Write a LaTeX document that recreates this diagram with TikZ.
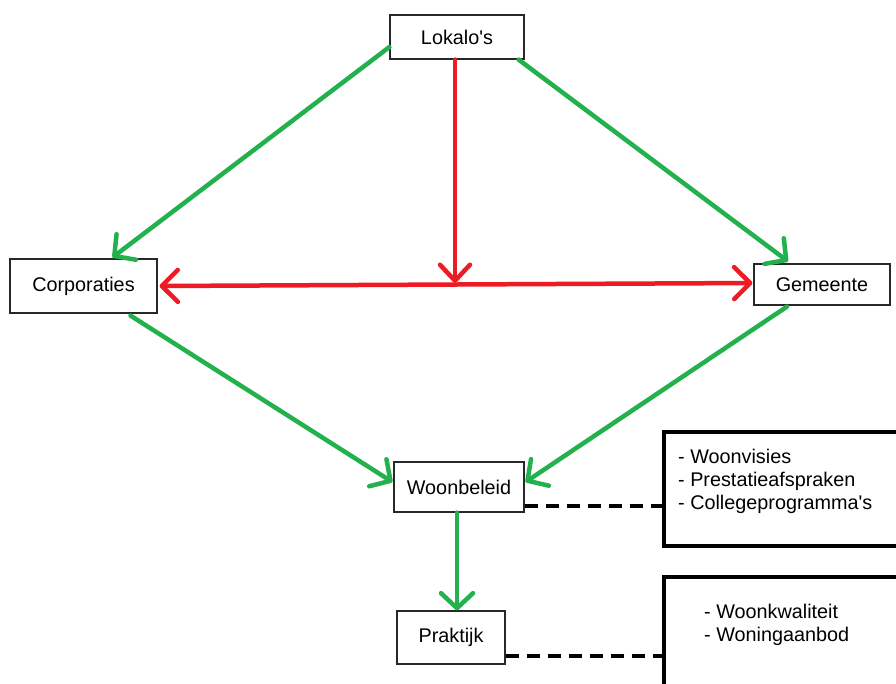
\documentclass[tikz,border=0pt]{standalone}
\usepackage{fontspec}
\setmainfont{Liberation Sans}
\usetikzlibrary{arrows.meta}
\definecolor{pgreen}{RGB}{34,177,76}
\definecolor{pred}{RGB}{237,28,36}
\definecolor{boxgray}{RGB}{40,40,40}
\begin{document}
\begin{tikzpicture}[x=1pt,y=-1pt,
  every node/.style={font=\fontsize{19.8}{23}\selectfont, text=black},
  nbox/.style={draw=boxgray, line width=1.2pt, fill=white, inner sep=0pt},
  bigbox/.style={draw=black, line width=4.5pt, inner sep=0pt},
  garrow/.style={draw=pgreen, line width=4.5pt, line cap=round, line join=round,
     -{Straight Barb[length=15pt,width=32pt,line width=4.5pt,round]}},
  rarrow/.style={draw=pred, line width=4.5pt, line cap=round, line join=round,
     -{Straight Barb[length=16pt,width=30pt,line width=4.5pt,round]}},
  rdouble/.style={draw=pred, line width=4.5pt, line cap=round,
     {Straight Barb[length=16pt,width=32pt,line width=4.5pt,round]}-{Straight Barb[length=16pt,width=32pt,line width=4.5pt,round]}},
  dashline/.style={draw=black, line width=3.5pt, dash pattern=on 13pt off 8pt}]
\useasboundingbox (0,0) rectangle (896,683);
\fill[white] (0,0) rectangle (896,683);

% big side boxes
\node[bigbox, minimum width=256pt, minimum height=114pt] (box1) at (792,489) {};
\node[bigbox, minimum width=256pt, minimum height=150pt] (box2) at (792,652) {};
\node[anchor=north west, align=left, inner sep=0pt] (t1) at (678,449)
  {- Woonvisies\\- Prestatieafspraken\\- Collegeprogramma\textquotesingle s};
\node[anchor=north west, align=left, inner sep=0pt] (t2) at (704,604)
  {- Woonkwaliteit\\- Woningaanbod};

% main nodes
\node[nbox, minimum width=134pt, minimum height=44pt] (lok) at (457,37) {Lokalo\textquotesingle s};
\node[nbox, minimum width=147pt, minimum height=54pt] (corp) at (83.5,286) {Corporaties};
\node[nbox, minimum width=136pt, minimum height=41pt] (gem) at (822,284.5) {Gemeente};
\node[nbox, minimum width=130pt, minimum height=50pt] (woon) at (459,487) {\raisebox{-2pt}{Woonbeleid}};
\node[nbox, minimum width=108pt, minimum height=53pt] (prak) at (451,637.5) {Praktijk};

\coordinate (mid) at (455,283);
\coordinate (wd) at ([yshift=-19pt]woon.east);
\coordinate (pd) at ([yshift=-18.5pt]prak.east);

% green arrows
\draw[garrow] ([yshift=-10pt]lok.west) -- ([xshift=29pt,yshift=1pt]corp.north);
\draw[garrow] ([xshift=-6pt]lok.south east) -- ([xshift=-34pt,yshift=2pt]gem.north);
\draw[garrow] ([xshift=47pt,yshift=-2pt]corp.south) -- ([xshift=-1pt,yshift=5pt]woon.west);
\draw[garrow] ([xshift=-35pt,yshift=-1pt]gem.south) -- ([xshift=1pt,yshift=5pt]woon.east);
\draw[garrow] ([xshift=-2pt]woon.south) -- ([xshift=6pt]prak.north);

% red arrows
\draw[rdouble] ([xshift=2pt]corp.east) -- ([xshift=-1pt,yshift=1.5pt]gem.west);
\draw[rarrow] ([xshift=-2pt]lok.south) -- (mid);

% dashed links
\draw[dashline] (wd) -- (box1.west |- wd);
\draw[dashline] (pd) -- (box2.west |- pd);
\end{tikzpicture}
\end{document}
